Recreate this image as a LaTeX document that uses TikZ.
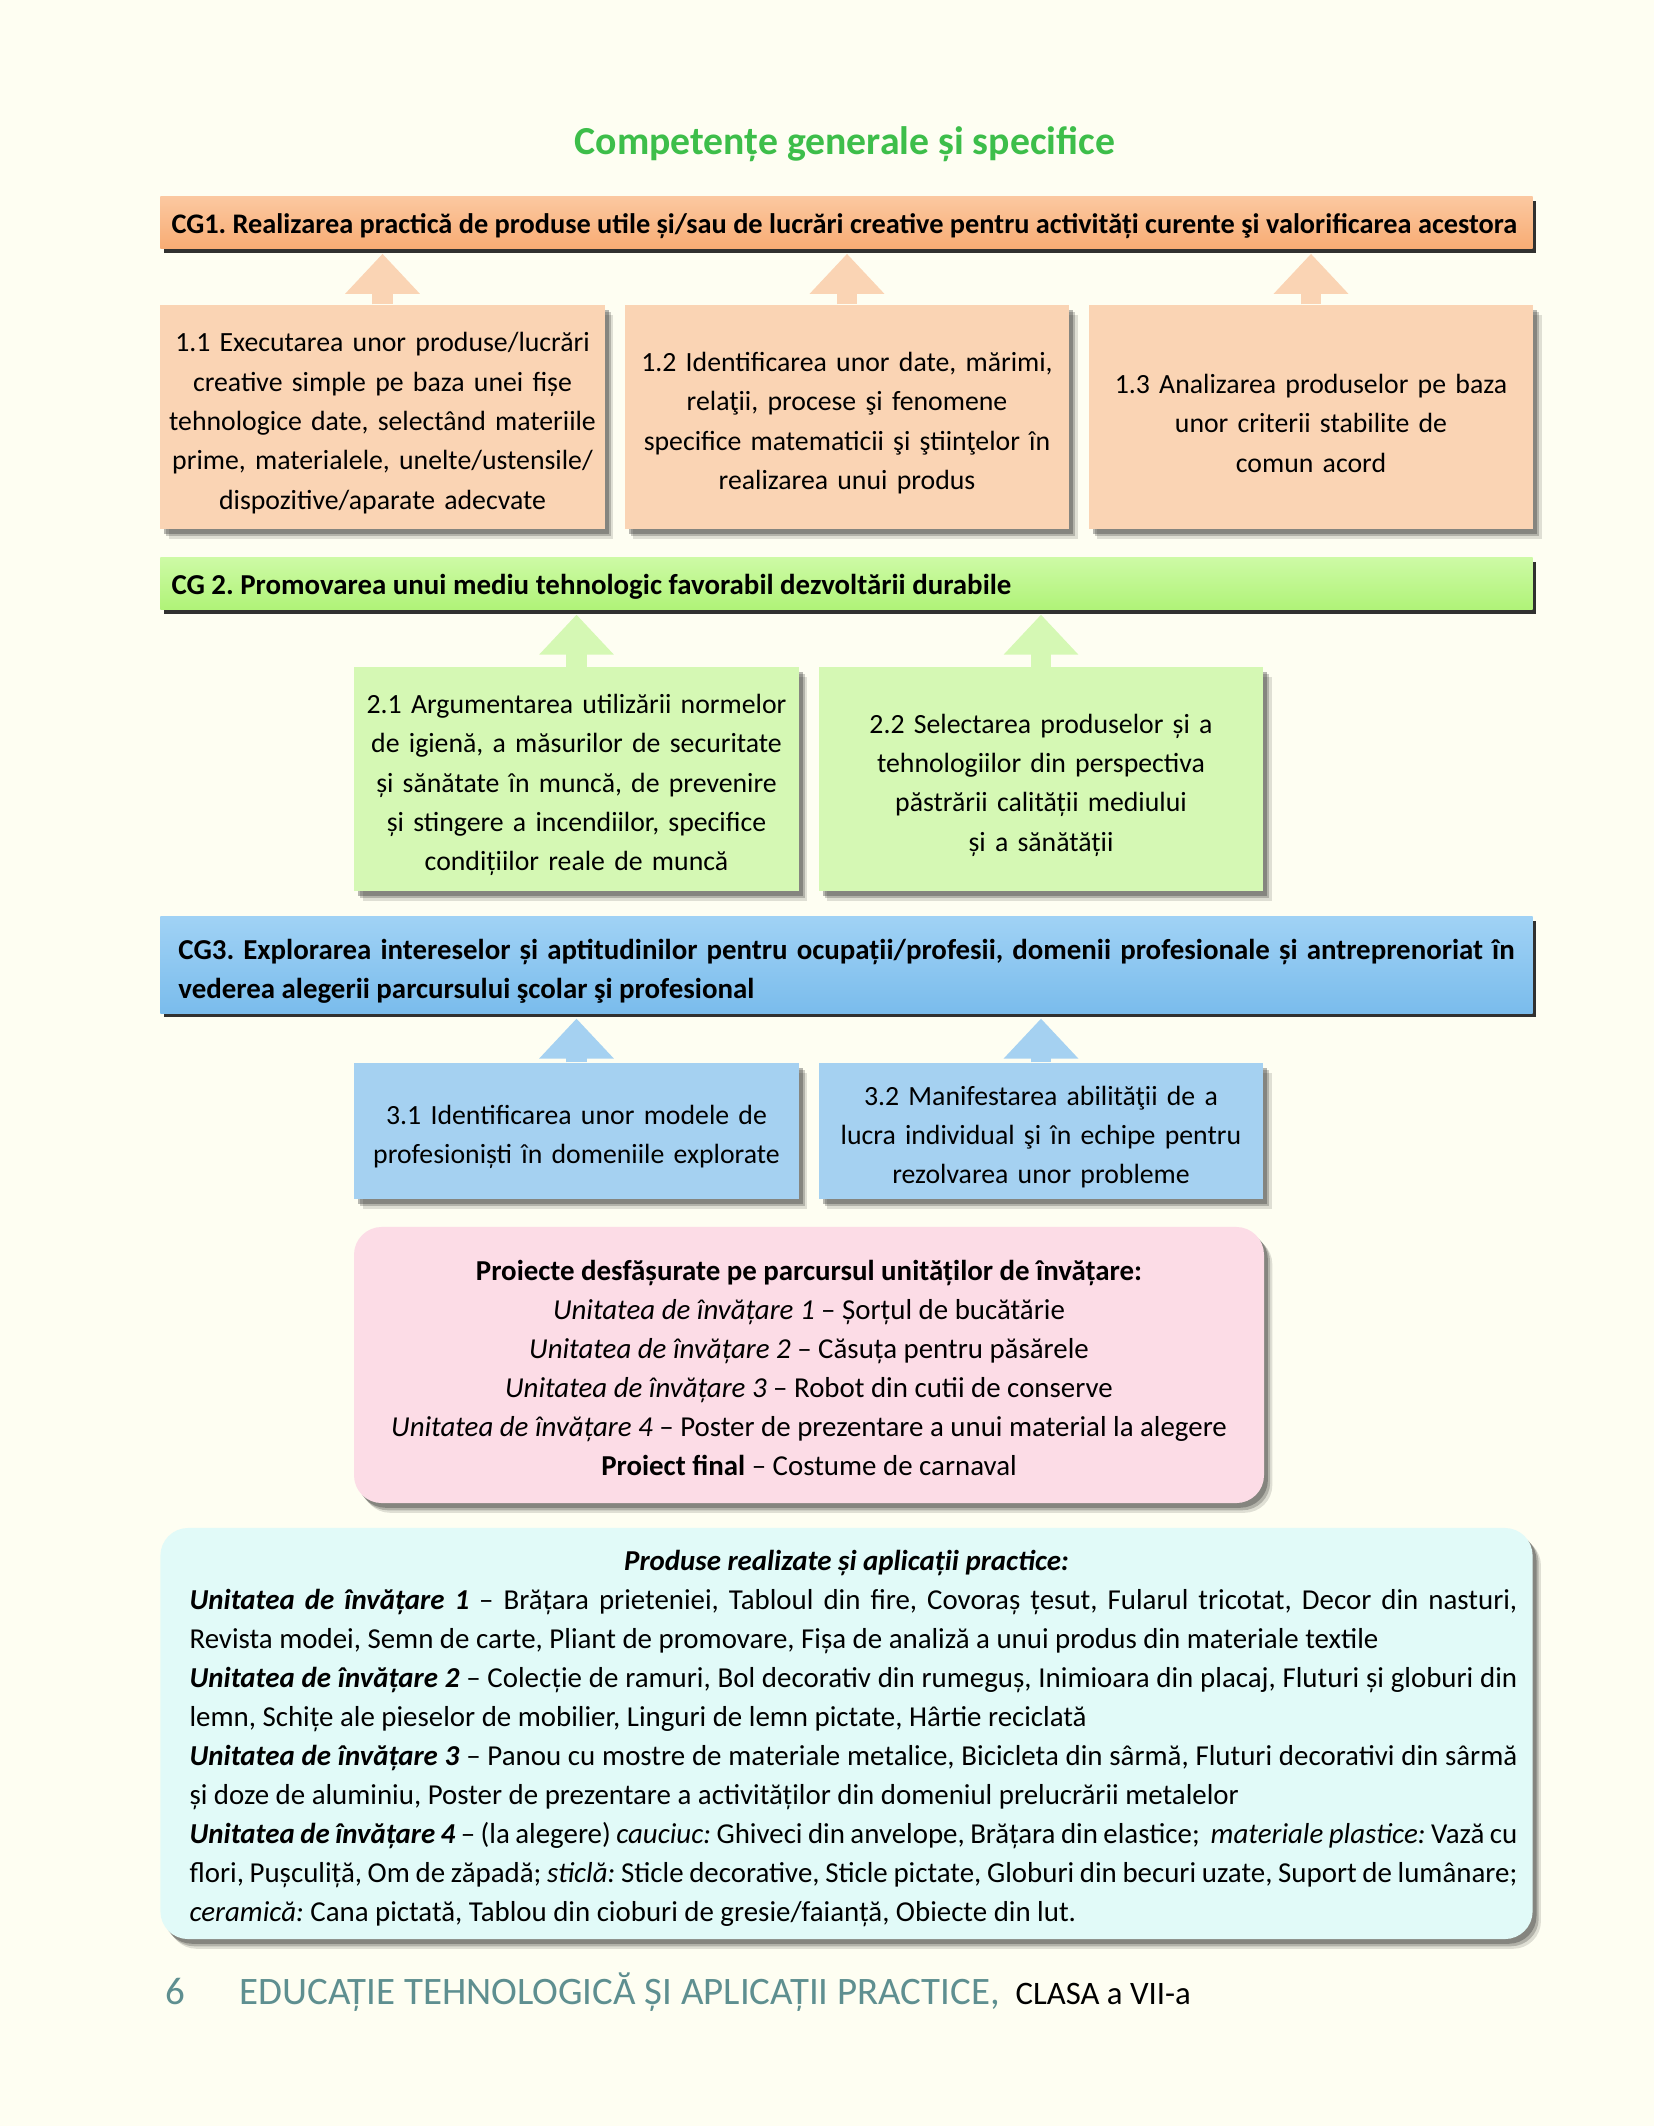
\documentclass[tikz,border=0pt]{standalone}
\usepackage{fontspec}
\setmainfont{Carlito}
\usetikzlibrary{arrows.meta,shadows}
\frenchspacing

\definecolor{pagebg}{RGB}{254,254,242}
\definecolor{titlegreen}{RGB}{61,190,74}
\definecolor{cgorange}{RGB}{248,172,116}
\definecolor{cgorangetop}{RGB}{251,200,160}
\definecolor{boxpeach}{RGB}{250,212,180}
\definecolor{cggreen}{RGB}{176,243,120}
\definecolor{cggreentop}{RGB}{205,250,165}
\definecolor{boxgreen}{RGB}{213,248,180}
\definecolor{cgblue}{RGB}{122,188,236}
\definecolor{cgbluetop}{RGB}{160,210,245}
\definecolor{boxblue}{RGB}{165,209,241}
\definecolor{boxpink}{RGB}{252,220,230}
\definecolor{boxcyan}{RGB}{225,250,248}
\definecolor{footteal}{RGB}{94,143,144}

\tikzset{
  softshadow/.style={
    drop shadow={shadow xshift=3pt, shadow yshift=-3.5pt, opacity=0.12, fill=black},
    drop shadow={shadow xshift=2.2pt, shadow yshift=-2.6pt, opacity=0.2, fill=black},
    drop shadow={shadow xshift=1.4pt, shadow yshift=-1.7pt, opacity=0.35, fill=black!80}},
  cgbar/.style={draw=none, top color=#1top, bottom color=#1, minimum width=494pt,
    text width=486pt, inner xsep=4pt, align=justify,
    font=\fontsize{10.4}{14.15}\selectfont\bfseries,
    drop shadow={shadow xshift=1.2pt, shadow yshift=-1.6pt, opacity=0.95, fill=black!85}},
  compbox/.style={fill=#1, minimum width=160pt, text width=154pt, inner xsep=3pt,
    align=center, font=\fontsize{10}{14.15}\selectfont,
    execute at begin node={\rule{0pt}{11.4pt}}, softshadow},
  infobox/.style={fill=#1, rounded corners=10pt, softshadow},
  fatarrow/.style={draw=#1, line width=7.5pt, shorten >=1.8pt,
    -{Triangle[width=26pt,length=14.4pt]}}
}

\begin{document}
\begin{tikzpicture}[x=0.36pt,y=-0.36pt]
% page background fixes the size of the picture
\fill[pagebg] (0,0) rectangle (1654,2126);
\useasboundingbox (0,0) rectangle (1654,2126);

\node[font=\fontsize{14.3}{17}\selectfont\bfseries, text=titlegreen] (title) at (845,144)
  {Competențe generale și specifice};

% CG1 and its three specific competences
\node[cgbar=cgorange, minimum height=18pt, font=\fontsize{10.2}{14.15}\selectfont\bfseries] (cg1) at (846.5,222.5)
  {\rule{0pt}{10pt}CG1. Realizarea practică de produse utile și/sau de lucrări creative pentru activități curente şi valorificarea acestora};
\node[compbox=boxpeach, minimum height=80.6pt] (c11) at (382.5,417)
  {1.1 Executarea unor produse/lucrări\\ creative simple pe baza unei fișe\\ tehnologice date, selectând materiile\\ prime, materialele, unelte/ustensile/\\ dispozitive/aparate adecvate};
\node[compbox=boxpeach, minimum height=80.6pt] (c12) at (847,417)
  {1.2 Identificarea unor date, mărimi,\\ relaţii, procese şi fenomene\\ specifice matematicii şi ştiinţelor în\\ realizarea unui produs};
\node[compbox=boxpeach, minimum height=80.6pt] (c13) at (1311,417)
  {\rule{0pt}{10pt}1.3 Analizarea produselor pe baza\\ unor criterii stabilite de\\ comun acord};
\draw[fatarrow=boxpeach] (c11.north) -- (c11.north |- cg1.south);
\draw[fatarrow=boxpeach] (c12.north) -- (c12.north |- cg1.south);
\draw[fatarrow=boxpeach] (c13.north) -- (c13.north |- cg1.south);

% CG2
\node[cgbar=cggreen, minimum height=17.6pt] (cg2) at (846.5,583.5)
  {\rule{0pt}{10pt}CG 2. Promovarea unui mediu tehnologic favorabil dezvoltării durabile};
\node[compbox=boxgreen, minimum height=80.6pt] (c21) at (576.5,779)
  {2.1 Argumentarea utilizării normelor\\ de igienă, a măsurilor de securitate\\ și sănătate în muncă, de prevenire\\ și stingere a incendiilor, specifice\\ condițiilor reale de muncă};
\node[compbox=boxgreen, minimum height=80.6pt] (c22) at (1041,779)
  {2.2 Selectarea produselor și a\\ tehnologiilor din perspectiva\\ păstrării calității mediului\\ și a sănătății};
\draw[fatarrow=boxgreen] (c21.north) -- (c21.north |- cg2.south);
\draw[fatarrow=boxgreen] (c22.north) -- (c22.north |- cg2.south);

% CG3
\node[cgbar=cgblue, minimum height=29.5pt, text width=481pt] (cg3) at (846.5,965)
  {\rule{0pt}{12pt}CG3. Explorarea intereselor și aptitudinilor pentru ocupații/profesii, domenii profesionale și antreprenoriat în\linebreak
   vederea alegerii parcursului şcolar şi profesional};
\node[compbox=boxblue, minimum height=49pt] (c31) at (576.5,1131)
  {3.1 Identificarea unor modele de\\ profesioniști în domeniile explorate};
\node[compbox=boxblue, minimum height=49pt] (c32) at (1041,1131)
  {3.2 Manifestarea abilităţii de a\\ lucra individual şi în echipe pentru\\ rezolvarea unor probleme};
\draw[fatarrow=boxblue] (c31.north) -- (c31.north |- cg3.south);
\draw[fatarrow=boxblue] (c32.north) -- (c32.north |- cg3.south);

% projects
\node[infobox=boxpink, minimum width=327.6pt, minimum height=99.4pt, align=center,
      font=\fontsize{10.4}{14.05}\selectfont] (proj) at (809,1365)
  {\rule{0pt}{9.5pt}\textbf{Proiecte desfășurate pe parcursul unităților de învățare:}\\
   \textit{Unitatea de învățare 1} – Șorțul de bucătărie\\
   \textit{Unitatea de învățare 2} – Căsuța pentru păsărele\\
   \textit{Unitatea de învățare 3} – Robot din cutii de conserve\\
   \textit{Unitatea de învățare 4} – Poster de prezentare a unui material la alegere\\
   \textbf{Proiect final} – Costume de carnaval};

% products
\node[infobox=boxcyan, minimum width=494pt, minimum height=148pt, text width=483pt,
      inner xsep=5.5pt, align=justify, font=\fontsize{10.4}{14.05}\selectfont] (prod) at (846.5,1733.5)
  {\leftskip=5pt
   {\centering\rule{0pt}{11pt}\textbf{\textit{Produse realizate și aplicații practice:}}\par}
   \textbf{\textit{Unitatea de învățare 1}} – Brățara prieteniei, Tabloul din fire, Covoraș țesut, Fularul tricotat, Decor din nasturi,\linebreak
   Revista modei, Semn de carte, Pliant de promovare, Fișa de analiză a unui produs din materiale textile\par
   \textbf{\textit{Unitatea de învățare 2}} – Colecție de ramuri, Bol decorativ din rumeguș, Inimioara din placaj, Fluturi și globuri din\linebreak
   lemn, Schițe ale pieselor de mobilier, Linguri de lemn pictate, Hârtie reciclată\par
   \textbf{\textit{Unitatea de învățare 3}} – Panou cu mostre de materiale metalice, Bicicleta din sârmă, Fluturi decorativi din sârmă\linebreak
   și doze de aluminiu, Poster de prezentare a activităților din domeniul prelucrării metalelor\par
   \textbf{\textit{Unitatea de învățare 4}} – (la alegere) \textit{cauciuc:} Ghiveci din anvelope, Brățara din elastice;~ \textit{materiale plastice:} Vază cu\linebreak
   flori, Pușculiță, Om de zăpadă; \textit{sticlă:} Sticle decorative, Sticle pictate, Globuri din becuri uzate, Suport de lumânare;\linebreak
   \textit{ceramică:} Cana pictată, Tablou din cioburi de gresie/faianță, Obiecte din lut.\par};

% footer
\node[anchor=base west, inner sep=0pt, text=footteal, font=\fontsize{14}{16}\selectfont] (pagenr) at (165,2004) {6};
\node[anchor=base west, inner sep=0pt, text=footteal, font=\fontsize{14}{16}\selectfont] (subject) at (239,2004)
  {EDUCAȚIE TEHNOLOGICĂ ȘI APLICAȚII PRACTICE,};
\node[anchor=base west, inner sep=0pt, font=\fontsize{11.8}{14}\selectfont] (grade) at (1015,2004) {CLASA a VII-a};
\end{tikzpicture}
\end{document}
